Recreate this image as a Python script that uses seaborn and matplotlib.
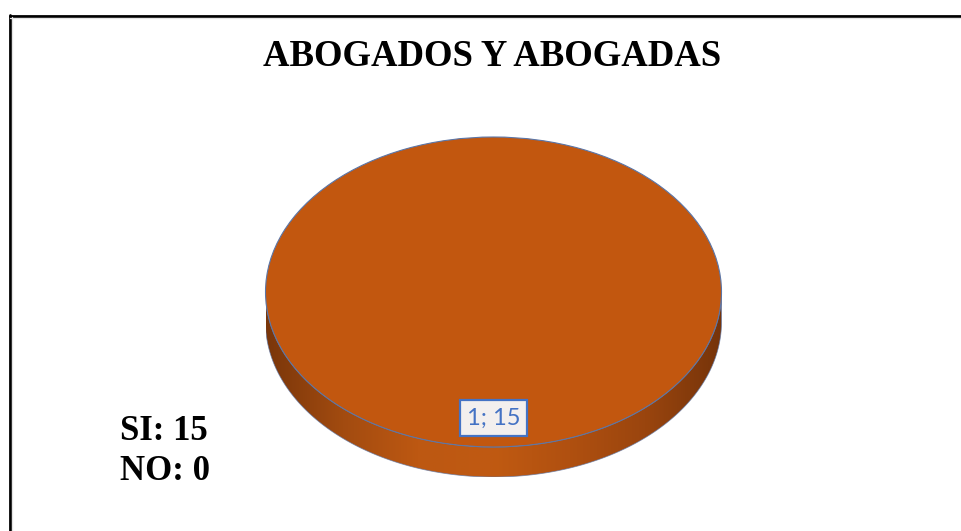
import numpy as np
import matplotlib
matplotlib.use("Agg")
import matplotlib.pyplot as plt
import seaborn as sns
from matplotlib.patches import Polygon
from matplotlib.lines import Line2D

# Survey answers for lawyers (abogados y abogadas)
answers = ["SI", "NO"]
counts = [15, 0]
point_ids = ["1", "2"]
title = "ABOGADOS Y ABOGADAS"

sns.set_theme(style="white")
plt.rcParams["font.family"] = ["DejaVu Sans"]
plt.rcParams["text.color"] = "black"

top_color = "#C2570F"
rim_edge = "#5B76A8"
side_cmap = sns.blend_palette(
    ["#7A360A", "#A24B10", "#BD5812", "#C05A12", "#B05010", "#9A450E", "#76340A"],
    as_cmap=True,
)
serif = ["Liberation Serif", "DejaVu Serif"]

W, H = 961, 531
fig = plt.figure(figsize=(W / 100, H / 100), dpi=100)
fig.patch.set_facecolor("white")

# Tilted pie: unit circle squashed into an ellipse, with a rim below it
rx, ry, depth_px = 228, 155, 30
cx, cy_top = 493.5, 292
depth = depth_px / ry
left = (cx - rx) / W
bottom = (H - (cy_top + ry + depth_px)) / H
ax = fig.add_axes([left, bottom, 2 * rx / W, (2 * ry + depth_px) / H])
ax.axis("off")

# Rim (front half of the cylinder side) with horizontal shading
theta = np.linspace(np.pi, 2 * np.pi, 200)
rim_x = np.concatenate([np.cos(theta), np.cos(theta[::-1])])
rim_y = np.concatenate([np.sin(theta), np.sin(theta[::-1]) - depth])
rim = Polygon(np.column_stack([rim_x, rim_y]), closed=True, transform=ax.transData,
              facecolor="none", edgecolor=rim_edge, linewidth=0.6, alpha=0.7, zorder=1)
ax.add_patch(rim)
shade = ax.imshow(np.linspace(0, 1, 256)[None, :], cmap=side_cmap, aspect="auto",
                  extent=(-1, 1, -1 - depth, 0), zorder=0.9, interpolation="bilinear")
shade.set_clip_path(rim)

# Top face of the pie
labels = [f"{pid}; {c}" if c > 0 else "" for pid, c in zip(point_ids, counts)]
wedges, texts = ax.pie(
    counts, labels=labels, colors=[top_color, "#4472C4"], startangle=90,
    counterclock=False, radius=1, center=(0, 0), labeldistance=0.813,
    wedgeprops=dict(edgecolor=rim_edge, linewidth=0.8), normalize=True,
)
for w, c in zip(wedges, counts):
    w.set_zorder(2)
    if c == 0:
        w.set_visible(False)
for t in texts:
    t.set_ha("center")
    t.set_va("center")
    t.set_zorder(5)
    t.set_color("#4472C4")
    t.set_fontfamily(["Lato", "DejaVu Sans"])
    t.set_fontsize(17)
    if t.get_text():
        t.set_bbox(dict(boxstyle="square,pad=0.3", facecolor="#F3EFEE",
                        edgecolor="#4472C4", linewidth=1.6))

ax.set_aspect("auto")
ax.set_xlim(-1, 1)
ax.set_ylim(-1 - depth, 1)

# Title
fig.text(492 / W, 1 - 57 / H, title, ha="center", va="center", color="black",
         fontfamily=serif, fontweight="bold", fontsize=26.5)

# Answer counts
for i, (a, c) in enumerate(zip(answers, counts)):
    fig.text(120 / W, 1 - (440.5 + 39.5 * i) / H, f"{a}: {c}", ha="left", va="baseline",
             color="black", fontfamily=serif, fontweight="bold", fontsize=25)

# Chart frame (top and left edges)
fig.add_artist(Line2D([9.5 / W, 1], [1 - 15.5 / H, 1 - 15.5 / H], transform=fig.transFigure,
                      color="black", linewidth=2.0))
fig.add_artist(Line2D([10.3 / W, 10.3 / W], [0, 1 - 14.5 / H], transform=fig.transFigure,
                      color="black", linewidth=2.0))
fig.add_artist(Line2D([9.5 / W, 1], [1 - 17.5 / H, 1 - 17.5 / H], transform=fig.transFigure,
                      color="#E4E4E4", linewidth=0.9))
fig.add_artist(Line2D([12.3 / W, 12.3 / W], [0, 1 - 16.5 / H], transform=fig.transFigure,
                      color="#E4E4E4", linewidth=0.9))

fig.savefig("out.png", dpi=100, facecolor="white")
